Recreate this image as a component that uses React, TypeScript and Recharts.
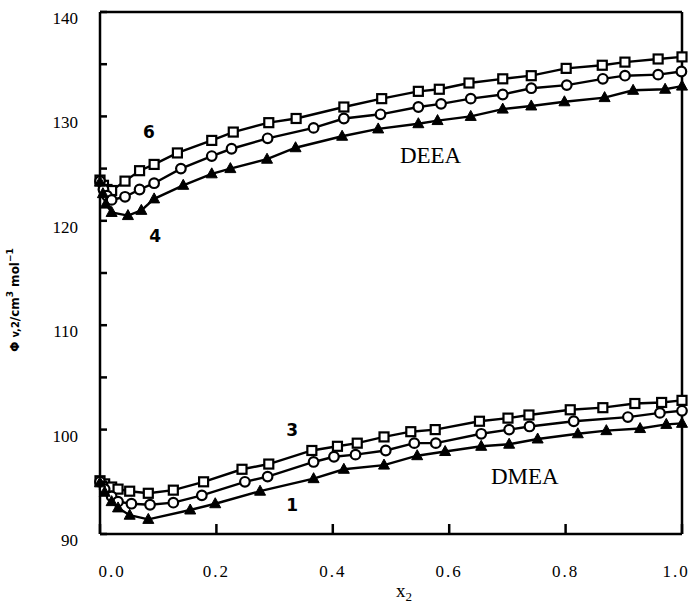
import React from 'react';
import {
  LineChart, Line, XAxis, YAxis, ReferenceDot,
} from 'recharts';

// DEEA, curve 6 (open squares)
const deea6X = [0, 0.006, 0.012, 0.02, 0.043, 0.068, 0.093, 0.133, 0.192, 0.229, 0.29, 0.337, 0.419, 0.484, 0.547, 0.583, 0.634, 0.692, 0.741, 0.801, 0.863, 0.902, 0.959, 1.0];
const deea6Y = [123.9, 123.4, 123.0, 122.9, 123.8, 124.8, 125.4, 126.5, 127.7, 128.5, 129.4, 129.8, 130.9, 131.7, 132.4, 132.6, 133.2, 133.6, 133.9, 134.6, 134.9, 135.2, 135.5, 135.7];
// DEEA, curve 5 (open circles)
const deea5X = [0, 0.006, 0.012, 0.02, 0.043, 0.068, 0.093, 0.139, 0.192, 0.226, 0.288, 0.367, 0.419, 0.482, 0.547, 0.586, 0.637, 0.692, 0.741, 0.802, 0.864, 0.902, 0.959, 0.999];
const deea5Y = [123.8, 123.0, 122.4, 122.0, 122.3, 123.0, 123.6, 125.0, 126.2, 126.9, 127.9, 128.9, 129.8, 130.2, 130.9, 131.2, 131.7, 132.1, 132.7, 133.0, 133.6, 133.9, 134.0, 134.3];
// DEEA, curve 4 (filled triangles)
const deea4X = [0, 0.005, 0.01, 0.02, 0.048, 0.071, 0.093, 0.143, 0.192, 0.224, 0.287, 0.336, 0.416, 0.478, 0.547, 0.58, 0.637, 0.692, 0.741, 0.798, 0.867, 0.916, 0.971, 1.0];
const deea4Y = [123.7, 122.6, 121.6, 120.8, 120.5, 121.0, 122.1, 123.4, 124.5, 125.0, 125.9, 127.0, 128.1, 128.8, 129.3, 129.6, 130.0, 130.7, 131.0, 131.4, 131.8, 132.5, 132.6, 132.9];

// DMEA, curve 3 (open squares)
const dmea3X = [0, 0.008, 0.02, 0.031, 0.051, 0.083, 0.126, 0.178, 0.244, 0.29, 0.364, 0.408, 0.442, 0.488, 0.534, 0.576, 0.652, 0.701, 0.737, 0.808, 0.864, 0.919, 0.965, 1.0];
const dmea3Y = [95.1, 94.8, 94.5, 94.3, 94.1, 93.9, 94.2, 95.0, 96.2, 96.7, 98.0, 98.4, 98.7, 99.3, 99.8, 100.0, 100.8, 101.1, 101.4, 101.9, 102.1, 102.5, 102.6, 102.8];
// DMEA, curve 2 (open circles)
const dmea2X = [0, 0.008, 0.02, 0.031, 0.054, 0.086, 0.126, 0.175, 0.249, 0.288, 0.367, 0.402, 0.439, 0.491, 0.54, 0.577, 0.655, 0.703, 0.738, 0.814, 0.907, 0.962, 1.0];
const dmea2Y = [95.0, 94.3, 93.6, 93.1, 92.9, 92.8, 93.0, 93.7, 95.0, 95.5, 96.9, 97.4, 97.6, 98.0, 98.7, 98.7, 99.6, 100.0, 100.3, 100.8, 101.2, 101.6, 101.8];
// DMEA, curve 1 (filled triangles)
const dmea1X = [0, 0.008, 0.02, 0.031, 0.051, 0.083, 0.155, 0.198, 0.275, 0.367, 0.419, 0.488, 0.545, 0.593, 0.655, 0.703, 0.752, 0.821, 0.87, 0.928, 0.973, 1.0];
const dmea1Y = [94.9, 94.0, 93.1, 92.5, 91.8, 91.4, 92.3, 92.9, 94.1, 95.3, 96.2, 96.6, 97.5, 97.9, 98.4, 98.6, 99.1, 99.6, 99.9, 100.1, 100.5, 100.6];

const xTicks = [0, 0.2, 0.4, 0.6, 0.8, 1.0];
const yTicks = [90, 95, 100, 105, 110, 115, 120, 125, 130, 135, 140];

// in-plot labels
const noteText = ['6', '4', 'DEEA', '3', '1', 'DMEA'];
const noteX = [0.084, 0.095, 0.568, 0.330, 0.330, 0.730];
const noteY = [128.5, 118.5, 126.3, 100.0, 92.8, 95.6];
const noteBold = [true, true, false, true, true, false];

const toPoints = (xs: number[], ys: number[]) => xs.map((x, i) => ({ x, y: ys[i] }));

const SquareDot = (props: any) => {
  const { cx, cy } = props;
  if (cx == null || cy == null) return null;
  return <rect x={cx - 4.5} y={cy - 4.5} width={9} height={9} fill="#fff" stroke="#000" strokeWidth={2.2} />;
};

const CircleDot = (props: any) => {
  const { cx, cy } = props;
  if (cx == null || cy == null) return null;
  return <circle cx={cx} cy={cy} r={4.8} fill="#fff" stroke="#000" strokeWidth={2.2} />;
};

const TriangleDot = (props: any) => {
  const { cx, cy } = props;
  if (cx == null || cy == null) return null;
  return <polygon points={`${cx},${cy - 6} ${cx + 5.5},${cy + 4} ${cx - 5.5},${cy + 4}`} fill="#000" stroke="#000" strokeWidth={1} />;
};

const X_GAP = 31; // from axis line to top of tick labels
const Y_GAP = 22; // from axis line to right edge of tick labels

// ticks point into the plot, drawn by hand
const XTick = (props: any) => {
  const { x, y, payload } = props;
  const v = payload.value as number;
  // edge labels sit slightly inside the frame
  const shift = v === 0 ? 12 : v === 1 ? -6 : 0;
  const axisY = y - X_GAP;
  return (
    <g>
      <line x1={x} x2={x} y1={axisY} y2={axisY - 10} stroke="#000" strokeWidth={2.5} />
      <text x={x + shift} y={y} dy="0.71em" textAnchor="middle" fill="#000"
        fontSize={17} fontFamily="Liberation Serif" letterSpacing={2}>
        {v.toFixed(1)}
      </text>
    </g>
  );
};

const YTick = (props: any) => {
  const { x, y, payload } = props;
  const v = payload.value as number;
  const axisX = x + Y_GAP;
  return (
    <g>
      <line x1={axisX} x2={axisX + 7} y1={y} y2={y} stroke="#000" strokeWidth={2.5} />
      {v % 10 === 0 && (
        <text x={x} y={y + 6} dy="0.355em"
          textAnchor="end" fill="#000" fontSize={17} fontFamily="Liberation Serif">
          {v}
        </text>
      )}
    </g>
  );
};

const RightTick = (props: any) => {
  const { x, y } = props;
  return <line x1={x} x2={x - 7} y1={y} y2={y} stroke="#000" strokeWidth={2.5} />;
};

const XTitle = (props: any) => {
  const vb = props.viewBox;
  const cx = vb.x + vb.width / 2 + 5;
  return (
    <text x={cx} y={597} fill="#000" fontSize={19} fontFamily="Liberation Serif">
      x<tspan fontSize={13} dy={4}>2</tspan>
    </text>
  );
};

const YTitle = () => (
  <text x={0} y={0} transform="translate(19, 300) rotate(-90)" textAnchor="middle"
    fill="#000" fontSize={12} fontWeight="bold" fontFamily="DejaVu Sans">
    Φ<tspan fontSize={10} dx={4}>v,2</tspan>/cm<tspan fontSize={9} dy={-6}>3</tspan><tspan dy={6} dx={4}>mol</tspan><tspan fontSize={9} dy={-6}>−1</tspan>
  </text>
);

const series = [
  { key: 'd6', data: toPoints(deea6X, deea6Y), dot: SquareDot },
  { key: 'd5', data: toPoints(deea5X, deea5Y), dot: CircleDot },
  { key: 'd4', data: toPoints(deea4X, deea4Y), dot: TriangleDot },
  { key: 'm3', data: toPoints(dmea3X, dmea3Y), dot: SquareDot },
  { key: 'm2', data: toPoints(dmea2X, dmea2Y), dot: CircleDot },
  { key: 'm1', data: toPoints(dmea1X, dmea1Y), dot: TriangleDot },
];

export default function App() {
  return (
    <div style={{ position: 'absolute', left: 0, top: 0, background: '#fff' }}>
      <LineChart width={692} height={607} margin={{ top: 0, right: 0, bottom: 0, left: 0 }}>
        <XAxis
          xAxisId="bottom"
          type="number"
          dataKey="x"
          domain={[0, 1]}
          ticks={xTicks}
          interval={0}
          height={73}
          tickSize={0}
          tickMargin={X_GAP}
          tick={<XTick />}
          axisLine={{ stroke: '#000', strokeWidth: 2.5 }}
          tickLine={false}
          label={<XTitle />}
        />
        <XAxis
          xAxisId="top"
          orientation="top"
          type="number"
          dataKey="x"
          domain={[0, 1]}
          height={12}
          tick={false}
          tickLine={false}
          axisLine={{ stroke: '#000', strokeWidth: 2.5 }}
        />
        <YAxis
          yAxisId="left"
          type="number"
          domain={[90, 140]}
          ticks={yTicks}
          interval={0}
          width={100}
          tickSize={0}
          tickMargin={Y_GAP}
          tick={<YTick />}
          axisLine={{ stroke: '#000', strokeWidth: 2.5 }}
          tickLine={false}
          label={<YTitle />}
        />
        <YAxis
          yAxisId="right"
          orientation="right"
          type="number"
          domain={[90, 140]}
          ticks={yTicks}
          interval={0}
          width={10}
          tickSize={0}
          tickMargin={0}
          tick={<RightTick />}
          axisLine={{ stroke: '#000', strokeWidth: 2.5 }}
          tickLine={false}
        />
        {series.map(s => (
          <Line
            key={s.key}
            xAxisId="bottom"
            yAxisId="left"
            data={s.data}
            dataKey="y"
            type="linear"
            stroke="#000"
            strokeWidth={2.4}
            dot={s.dot}
            activeDot={false}
            isAnimationActive={false}
          />
        ))}
        {noteText.map((t, i) => (
          <ReferenceDot
            key={t + i}
            xAxisId="bottom"
            yAxisId="left"
            x={noteX[i]}
            y={noteY[i]}
            r={1}
            fill="none"
            stroke="none"
            ifOverflow="visible"
            label={{
              value: t,
              position: 'center',
              fill: '#000',
              fontSize: noteBold[i] ? 17 : 23,
              fontWeight: noteBold[i] ? 'bold' : 'normal',
              fontFamily: noteBold[i] ? 'DejaVu Sans' : 'Liberation Serif',
            }}
          />
        ))}
      </LineChart>
    </div>
  );
}
